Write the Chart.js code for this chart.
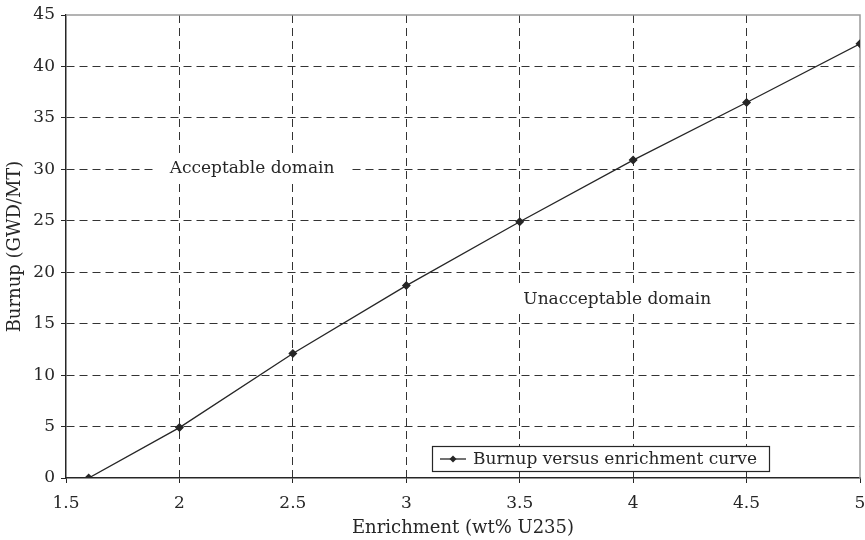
<!DOCTYPE html>
<html>
<head>
<meta charset="utf-8">
<script src="https://cdn.jsdelivr.net/npm/chart.js@4/dist/chart.umd.min.js"></script>
<style>
html,body{margin:0;padding:0;background:#fff;}
canvas{display:block;}
</style>
</head>
<body>
<canvas id="c" width="865" height="540"></canvas>
<script>
// ---- data ----
const enrichment = [1.6, 2, 2.5, 3, 3.5, 4, 4.5, 5];
const burnup = [0, 4.9, 12.1, 18.7, 24.9, 30.9, 36.5, 42.2];
const seriesLabel = 'Burnup versus enrichment curve';
const xTitle = 'Enrichment (wt% U235)';
const yTitle = 'Burnup (GWD/MT)';
const xTicks = [1.5, 2, 2.5, 3, 3.5, 4, 4.5, 5];
const yTicks = [0, 5, 10, 15, 20, 25, 30, 35, 40, 45];
const regionLabels = ['Acceptable domain', 'Unacceptable domain'];
const regionAnchorsX = [2.32, 3.93];
const regionAnchorsY = [30.2, 17.4];

const FONT = "'DejaVu Serif', 'Liberation Serif', serif";
const INK = '#262626';
const GRID = '#333333';

const points = enrichment.map((x, i) => ({x: x, y: burnup[i]}));

const decor = {
  id: 'decor',
  beforeDatasetsDraw(chart) {
    const {ctx, chartArea: a, scales: {x, y}} = chart;
    ctx.save();
    // top and right frame lines (grey)
    ctx.strokeStyle = '#9a9a9a';
    ctx.lineWidth = 1.5;
    ctx.beginPath();
    ctx.moveTo(a.left, a.top);
    ctx.lineTo(a.right, a.top);
    ctx.lineTo(a.right, a.bottom);
    ctx.stroke();
    // region labels with white backing
    ctx.font = '17px ' + FONT;
    ctx.textAlign = 'center';
    ctx.textBaseline = 'middle';
    regionLabels.forEach((t, i) => {
      const px = x.getPixelForValue(regionAnchorsX[i]);
      const py = y.getPixelForValue(regionAnchorsY[i]);
      const w = ctx.measureText(t).width;
      ctx.fillStyle = '#fff';
      ctx.fillRect(px - w / 2 - 14, py - 14, w + 28, 29);
      ctx.fillStyle = INK;
      ctx.fillText(t, px, py + 1);
    });
    ctx.restore();
  },
  afterDraw(chart) {
    const {ctx} = chart;
    ctx.save();
    const bx = 432, by = 446, bw = 337, bh = 25;
    ctx.fillStyle = '#fff';
    ctx.fillRect(bx, by, bw, bh);
    ctx.strokeStyle = INK;
    ctx.lineWidth = 1.2;
    ctx.strokeRect(bx + 0.5, by + 0.5, bw, bh);
    const cy = by + bh / 2 + 0.5;
    ctx.beginPath();
    ctx.moveTo(bx + 8, cy);
    ctx.lineTo(bx + 34, cy);
    ctx.lineWidth = 1.3;
    ctx.stroke();
    ctx.fillStyle = INK;
    ctx.beginPath();
    ctx.moveTo(bx + 21, cy - 3.5);
    ctx.lineTo(bx + 24.5, cy);
    ctx.lineTo(bx + 21, cy + 3.5);
    ctx.lineTo(bx + 17.5, cy);
    ctx.closePath();
    ctx.fill();
    ctx.font = '17px ' + FONT;
    ctx.textAlign = 'left';
    ctx.textBaseline = 'middle';
    ctx.fillText(seriesLabel, bx + 41, cy + 1);
    ctx.restore();
  }
};

new Chart(document.getElementById('c'), {
  type: 'scatter',
  data: {
    datasets: [{
      label: seriesLabel,
      data: points,
      showLine: true,
      borderColor: INK,
      backgroundColor: INK,
      borderWidth: 1.3,
      pointStyle: 'rectRot',
      pointRadius: 3.6,
      pointHoverRadius: 3.6,
      tension: 0
    }]
  },
  options: {
    responsive: false,
    animation: false,
    events: [],
    layout: {padding: {top: 15, right: 5, left: 0, bottom: 0}},
    plugins: {legend: {display: false}, tooltip: {enabled: false}},
    scales: {
      x: {
        type: 'linear',
        min: 1.5, max: 5,
        afterBuildTicks(s) { s.ticks = xTicks.map(v => ({value: v})); },
        afterFit(s) { s.height = 62; s.paddingRight = 0; s.paddingLeft = 0; },
        ticks: {
          color: INK,
          font: {family: FONT, size: 17},
          padding: 10,
          maxRotation: 0,
          callback: v => String(v)
        },
        grid: {
          color: c => (c.tick && (c.tick.value === 5 || c.tick.value === 1.5)) ? 'rgba(0,0,0,0)' : GRID,
          tickColor: INK,
          tickLength: 5,
          lineWidth: 1,
          borderDash: [8, 5]
        },
        border: {display: true, color: INK, width: 1.5, dash: [8, 5]},
        title: {display: true, text: xTitle, color: INK, font: {family: FONT, size: 18}, padding: {top: 0, bottom: 1}}
      },
      y: {
        type: 'linear',
        min: 0, max: 45,
        afterBuildTicks(s) { s.ticks = yTicks.map(v => ({value: v})); },
        afterFit(s) { s.width = 66; s.paddingTop = 0; s.paddingBottom = 0; },
        ticks: {
          color: INK,
          font: {family: FONT, size: 17},
          padding: 6,
          callback: v => String(v)
        },
        grid: {
          color: c => (c.tick && (c.tick.value === 45 || c.tick.value === 0)) ? 'rgba(0,0,0,0)' : GRID,
          tickColor: INK,
          tickLength: 5,
          lineWidth: 1,
          borderDash: [8, 5]
        },
        border: {display: true, color: INK, width: 1.5, dash: [8, 5]},
        title: {display: true, text: yTitle, color: INK, font: {family: FONT, size: 18}, padding: {top: 5, bottom: 0}}
      }
    }
  },
  plugins: [decor]
});
</script>
</body>
</html>
